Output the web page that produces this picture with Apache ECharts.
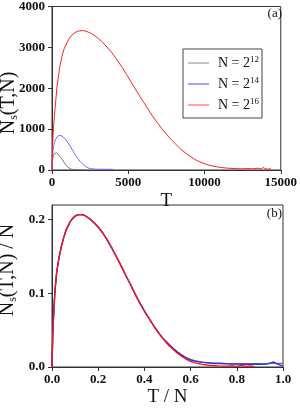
<!DOCTYPE html>
<html><head><meta charset="utf-8">
<script src="https://cdn.jsdelivr.net/npm/echarts@6/dist/echarts.min.js"></script>
<style>html,body{margin:0;padding:0;background:#fff}#c{width:300px;height:408px}</style>
</head><body><div id="c"></div>
<script>
// ---- panel (a): N_s(T,N) vs T ----
const legendNames = ['N = 2^12', 'N = 2^14', 'N = 2^16'];
const aX_ticks = [0, 5000, 10000, 15000];
const aY_ticks = [0, 1000, 2000, 3000, 4000];

const a12_T = [0, 10, 25, 50, 80, 120, 160, 200, 250, 300, 350, 420, 500, 580, 660, 740, 820, 900, 980, 1060, 1140, 1220, 1300, 1450, 1650, 1850, 2048];
const a12_V = [0, 90, 190, 275, 335, 380, 405, 418, 422, 418, 408, 385, 350, 308, 262, 215, 170, 128, 92, 64, 42, 27, 18, 12, 10, 9, 9];

const a14_T = [0, 12, 30, 50, 80, 120, 165, 205, 250, 290, 330, 370, 410, 450, 490, 530, 575, 655, 740, 820, 900, 985, 1065, 1150, 1230, 1310, 1390, 1475, 1555, 1640, 1720, 1800, 1885, 1965, 2050, 2130, 2210, 2295, 2375, 2460, 2540, 2660, 2870, 3070, 3300, 3550, 3800, 4000];
const a14_V = [0, 165, 290, 410, 525, 605, 668, 717, 758, 786, 810, 827, 840, 846, 848, 847, 844, 827, 805, 778, 745, 705, 659, 610, 561, 508, 459, 405, 356, 311, 270, 229, 192, 160, 131, 106, 84, 66, 50, 40, 32, 26, 21, 19, 18, 17, 17, 16];

const a16_T = [0, 40, 100, 200, 330, 500, 650, 800, 1000, 1150, 1300, 1500, 1650, 1800, 2000, 2150, 2300, 2600, 2950, 3300, 3600, 3950, 4250, 4600, 4900, 5250, 5600, 5900, 6250, 6550, 6900, 7200, 7550, 7850, 8200, 8500, 8850, 9200, 9500, 9850, 10150, 10500, 11000, 11500, 12000, 12400, 12800, 13200, 13500, 13700, 13850, 14000, 14100, 14200, 14350];
const a16_V = [0, 650, 1050, 1500, 2050, 2500, 2780, 2970, 3130, 3230, 3300, 3360, 3390, 3405, 3410, 3405, 3385, 3335, 3245, 3130, 3010, 2860, 2700, 2510, 2330, 2110, 1900, 1720, 1520, 1340, 1160, 1010, 860, 730, 600, 490, 390, 300, 230, 175, 135, 100, 65, 45, 35, 30, 35, 30, 45, 25, 60, 30, 55, 20, 40];

// ---- panel (b): N_s(T,N)/N vs T/N ----
const bX_ticks = [0, 0.2, 0.4, 0.6, 0.8, 1.0];
const bY_ticks = [0, 0.1, 0.2];

const b12_x = [0, 0.003, 0.007, 0.012, 0.02, 0.03, 0.04, 0.05, 0.06, 0.07, 0.08, 0.09, 0.10, 0.11, 0.12, 0.13, 0.14, 0.16, 0.18, 0.20, 0.22, 0.24, 0.26, 0.28, 0.30, 0.32, 0.34, 0.36, 0.38, 0.40, 0.42, 0.44, 0.46, 0.48, 0.50, 0.52, 0.54, 0.56, 0.58, 0.60, 0.62, 0.65, 0.70, 0.75, 0.80, 0.85, 0.90, 0.93, 0.96, 0.98, 1.0];
const b12_y = [0, 0.04, 0.07, 0.1, 0.128, 0.148, 0.163, 0.175, 0.185, 0.192, 0.198, 0.202, 0.205, 0.2065, 0.207, 0.2068, 0.206, 0.202, 0.1965, 0.19, 0.182, 0.172, 0.161, 0.149, 0.137, 0.124, 0.112, 0.099, 0.087, 0.076, 0.066, 0.056, 0.047, 0.039, 0.0325, 0.0265, 0.021, 0.0165, 0.0128, 0.0100, 0.0083, 0.0066, 0.0054, 0.0048, 0.0045, 0.0044, 0.0045, 0.0047, 0.0052, 0.0049, 0.0046];

const b14_x = [0, 0.003, 0.007, 0.012, 0.02, 0.03, 0.04, 0.05, 0.06, 0.07, 0.08, 0.09, 0.10, 0.11, 0.12, 0.13, 0.14, 0.16, 0.18, 0.20, 0.22, 0.24, 0.26, 0.28, 0.30, 0.32, 0.34, 0.36, 0.38, 0.40, 0.42, 0.44, 0.46, 0.48, 0.50, 0.52, 0.54, 0.56, 0.58, 0.60, 0.62, 0.65, 0.70, 0.75, 0.80, 0.85, 0.90, 0.93, 0.95, 0.96, 0.97, 0.98, 1.0];
const b14_y = [0, 0.04, 0.07, 0.1, 0.128, 0.148, 0.163, 0.175, 0.185, 0.192, 0.198, 0.202, 0.205, 0.2065, 0.207, 0.2068, 0.206, 0.202, 0.1965, 0.19, 0.182, 0.172, 0.161, 0.149, 0.137, 0.124, 0.112, 0.099, 0.087, 0.076, 0.066, 0.056, 0.047, 0.039, 0.0325, 0.0265, 0.021, 0.0165, 0.0125, 0.0097, 0.008, 0.0063, 0.005, 0.0044, 0.004, 0.0037, 0.0036, 0.004, 0.0058, 0.0068, 0.005, 0.0035, 0.001];

const b16_x = [0, 0.003, 0.007, 0.012, 0.02, 0.03, 0.04, 0.05, 0.06, 0.07, 0.08, 0.09, 0.10, 0.11, 0.12, 0.13, 0.14, 0.16, 0.18, 0.20, 0.22, 0.24, 0.26, 0.28, 0.30, 0.32, 0.34, 0.36, 0.38, 0.40, 0.42, 0.44, 0.46, 0.48, 0.50, 0.52, 0.54, 0.56, 0.58, 0.60, 0.62, 0.65, 0.68, 0.72, 0.76, 0.78, 0.80, 0.82, 0.84, 0.86, 0.875];
const b16_y = [0, 0.04, 0.07, 0.1, 0.128, 0.148, 0.163, 0.175, 0.185, 0.192, 0.198, 0.202, 0.205, 0.2065, 0.207, 0.2068, 0.206, 0.202, 0.1965, 0.19, 0.182, 0.172, 0.161, 0.149, 0.137, 0.124, 0.112, 0.099, 0.087, 0.076, 0.066, 0.056, 0.047, 0.039, 0.031, 0.025, 0.0195, 0.0148, 0.0108, 0.0077, 0.0055, 0.0035, 0.0024, 0.0016, 0.0011, 0.0018, 0.0009, 0.0022, 0.0007, 0.0016, 0.0004];

const zip = (xs, ys) => xs.map((x, i) => [x, ys[i]]);
const SERIF = '"Liberation Serif", "DejaVu Serif", serif';
const axisCol = '#333';
const labelStyle = { fontFamily: SERIF, fontWeight: 'bold', fontSize: 13, color: '#111' };

function mkLegendLabel(name) {
  const m = name.split('^');
  return '{n|' + m[0] + '}{s|' + m[1] + '}';
}

const chart = echarts.init(document.getElementById('c'), null, { renderer: 'canvas' });
const baseX = {
  type: 'value', axisLine: { show: true, onZero: false, lineStyle: { color: axisCol, width: 1 } },
  axisTick: { show: true, inside: false, length: 4, lineStyle: { color: axisCol } },
  splitLine: { show: false }, nameLocation: 'middle'
};
const ytitleRich = {
  n: { fontFamily: SERIF, fontSize: 20, fill: '#111', lineHeight: 22 },
  s: { fontFamily: SERIF, fontSize: 12, fill: '#111', verticalAlign: 'bottom', lineHeight: 22, padding: [8, 0, 0, 0] }
};
chart.setOption({
  animation: false,
  backgroundColor: '#fff',
  grid: [
    { left: 52, top: 5, width: 231, height: 165, show: true, borderColor: axisCol, borderWidth: 1, backgroundColor: 'transparent' },
    { left: 52, top: 205, width: 231, height: 165, show: true, borderColor: axisCol, borderWidth: 1, backgroundColor: 'transparent' }
  ],
  xAxis: [
    Object.assign({}, baseX, { gridIndex: 0, min: aX_ticks[0], max: aX_ticks[aX_ticks.length - 1], interval: aX_ticks[1] - aX_ticks[0],
      axisLabel: Object.assign({ margin: 6, formatter: v => String(v) }, labelStyle),
      name: 'T', nameGap: 22, nameTextStyle: { fontFamily: SERIF, fontSize: 19, color: '#111' } }),
    Object.assign({}, baseX, { gridIndex: 1, min: bX_ticks[0], max: bX_ticks[bX_ticks.length - 1], interval: bX_ticks[1] - bX_ticks[0],
      axisLabel: Object.assign({ margin: 6, formatter: v => v.toFixed(1) }, labelStyle),
      name: 'T / N', nameGap: 21, nameTextStyle: { fontFamily: SERIF, fontSize: 19, color: '#111' } })
  ],
  yAxis: [
    Object.assign({}, baseX, { gridIndex: 0, min: aY_ticks[0], max: aY_ticks[aY_ticks.length - 1], interval: aY_ticks[1] - aY_ticks[0],
      axisLabel: Object.assign({ margin: 7, formatter: v => String(v) }, labelStyle) }),
    Object.assign({}, baseX, { gridIndex: 1, min: 0, max: 0.22, interval: bY_ticks[1] - bY_ticks[0],
      axisLabel: Object.assign({ margin: 7, showMaxLabel: false,
        formatter: v => (Math.abs(v * 10 - Math.round(v * 10)) < 1e-6 ? v.toFixed(1) : '') }, labelStyle) })
  ],
  legend: {
    orient: 'vertical', left: 183, top: 49, itemWidth: 21, itemHeight: 2, itemGap: 6,
    padding: [6, 3, 6, 5], borderColor: '#444', borderWidth: 1, backgroundColor: '#fff',
    icon: 'rect',
    data: [
      { name: legendNames[0], itemStyle: { color: '#c4c4c4' } },
      { name: legendNames[1], itemStyle: { color: '#a4a4ff' } },
      { name: legendNames[2], itemStyle: { color: '#ffa4a4' } }
    ],
    formatter: mkLegendLabel,
    textStyle: {
      rich: {
        n: { fontFamily: SERIF, fontSize: 14, color: '#111', padding: [0, 0, 0, 4], lineHeight: 16 },
        s: { fontFamily: SERIF, fontSize: 9, color: '#111', verticalAlign: 'top', lineHeight: 16 }
      }
    }
  },
  graphic: [
    { type: 'text', x: 9, y: 103, rotation: Math.PI / 2,
      style: { text: '{n|N}{s|s}{n|(T,N)}', textAlign: 'center', textVerticalAlign: 'middle', rich: ytitleRich } },
    { type: 'text', x: 8, y: 270, rotation: Math.PI / 2,
      style: { text: '{n|N}{s|s}{n|(T,N) / N}', textAlign: 'center', textVerticalAlign: 'middle', rich: ytitleRich } },
    { type: 'text', x: 282, y: 14, style: { text: '(a)', textAlign: 'right', textVerticalAlign: 'middle', font: '13px ' + SERIF, fill: '#111' } },
    { type: 'text', x: 282, y: 214, style: { text: '(b)', textAlign: 'right', textVerticalAlign: 'middle', font: '13px ' + SERIF, fill: '#111' } }
  ],
  series: [
    { name: legendNames[0], type: 'line', xAxisIndex: 0, yAxisIndex: 0, data: zip(a12_T, a12_V), showSymbol: false, smooth: false,
      lineStyle: { color: '#7a7a7a', width: 1 }, itemStyle: { color: '#7a7a7a' } },
    { name: legendNames[1], type: 'line', xAxisIndex: 0, yAxisIndex: 0, data: zip(a14_T, a14_V), showSymbol: false,
      lineStyle: { color: '#6a6aff', width: 1 }, itemStyle: { color: '#6a6aff' } },
    { name: legendNames[2], type: 'line', xAxisIndex: 0, yAxisIndex: 0, data: zip(a16_T, a16_V), showSymbol: false,
      lineStyle: { color: '#ff2020', width: 1 }, itemStyle: { color: '#ff2020' } },
    { name: 'b12', type: 'line', xAxisIndex: 1, yAxisIndex: 1, data: zip(b12_x, b12_y), showSymbol: false,
      lineStyle: { color: '#6a6a6a', width: 1.3 }, itemStyle: { color: '#6a6a6a' } },
    { name: 'b14', type: 'line', xAxisIndex: 1, yAxisIndex: 1, data: zip(b14_x, b14_y), showSymbol: false,
      lineStyle: { color: '#2a2aff', width: 1.3 }, itemStyle: { color: '#2a2aff' } },
    { name: 'b16', type: 'line', xAxisIndex: 1, yAxisIndex: 1, data: zip(b16_x, b16_y), showSymbol: false,
      lineStyle: { color: '#ff1010', width: 1.3 }, itemStyle: { color: '#ff1010' } }
  ]
});
</script></body></html>
